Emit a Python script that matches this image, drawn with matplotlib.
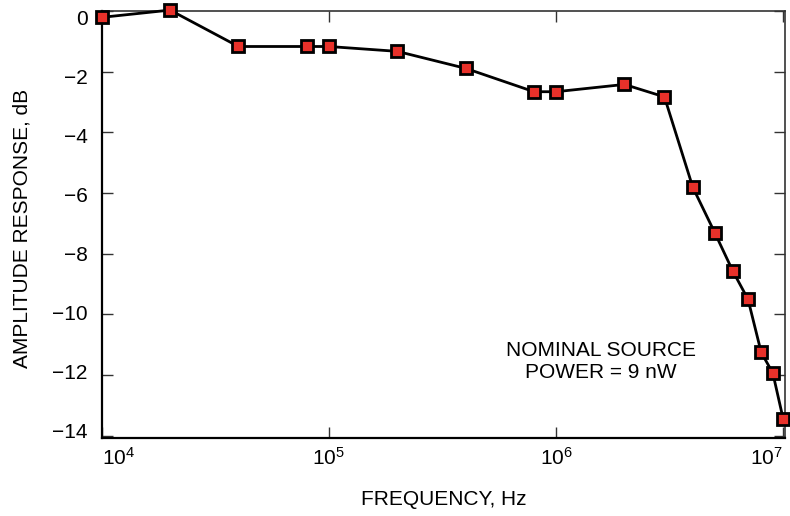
import numpy as np
import matplotlib
matplotlib.use('Agg')
import matplotlib.pyplot as plt
from matplotlib.transforms import ScaledTranslation

plt.rcParams['font.family'] = ['Liberation Sans', 'DejaVu Sans']
plt.rcParams['mathtext.default'] = 'regular'

freq_hz = [1.0e4, 2.0e4, 4.0e4, 8.0e4, 1.0e5, 2.0e5, 4.0e5, 8.0e5, 1.0e6, 2.0e6,
           3.0e6, 4.0e6, 5.0e6, 6.0e6, 7.0e6, 8.0e6, 9.0e6, 1.0e7]
resp_db = [-0.21, 0.03, -1.17, -1.17, -1.17, -1.33, -1.89, -2.66, -2.66, -2.42,
           -2.83, -5.81, -7.31, -8.57, -9.50, -11.25, -11.93, -13.45]

xticks = [1e4, 1e5, 1e6, 1e7]
xlabels = ['$10^{4}$', '$10^{5}$', '$10^{6}$', '$10^{7}$']
yticks = [0, -2, -4, -6, -8, -10, -12, -14]
ylabels = ['0', '\u22122', '\u22124', '\u22126', '\u22128', '\u221210', '\u221212', '\u221214']

fig = plt.figure(figsize=(7.9, 5.16), dpi=100)
ax = fig.add_axes([0.1287, 0.1506, 0.8653, 0.8281])

ax.plot(freq_hz, resp_db, color='black', lw=2.0, marker='s', ms=8.2,
        mfc='#e8312a', mec='black', mew=2.0, clip_on=False, zorder=3)

ax.set_xscale('log')
ax.set_xlim(10**4.0145, 10**7.009)
ax.set_ylim(-14.08, 0.0)

ax.set_xticks(xticks)
ax.set_xticklabels(xlabels, fontsize=15)
ax.xaxis.set_minor_locator(matplotlib.ticker.NullLocator())
ax.set_yticks(yticks)
ax.set_yticklabels(ylabels, fontsize=15)

ax.tick_params(axis='both', which='major', direction='in', length=8, width=1.0,
               color='#333333', top=True, right=True)
ax.tick_params(axis='x', pad=6)
ax.tick_params(axis='y', pad=10)

# first/last x labels sit inside the decade, like the original
labs = ax.get_xticklabels()
labs[0].set_ha('left')
labs[-1].set_ha('right')

# y labels drift slightly against their ticks in the original
for lab, v in zip(ax.get_yticklabels(), yticks):
    off = -(6.8 + 0.843 * v) / 100.0
    lab.set_transform(lab.get_transform() + ScaledTranslation(0, off, fig.dpi_scale_trans))

for side in ['left', 'bottom']:
    ax.spines[side].set_linewidth(1.6)
    ax.spines[side].set_color('black')
for side in ['top', 'right']:
    ax.spines[side].set_linewidth(1.2)
    ax.spines[side].set_color('#333333')

ax.set_xlabel('FREQUENCY, Hz', fontsize=15)
ax.xaxis.set_label_coords(0.5, -0.144)
ax.xaxis.label.set_va('center')
ax.set_ylabel('AMPLITUDE RESPONSE, dB', fontsize=15)
ax.yaxis.set_label_coords(-0.1166, 0.49)
ax.yaxis.label.set_va('center')

ax.text(10**6.196, -11.54, 'NOMINAL SOURCE\nPOWER = 9 nW', fontsize=15,
        ha='center', va='center', linespacing=1.2)

fig.savefig('out.png', dpi=100)
